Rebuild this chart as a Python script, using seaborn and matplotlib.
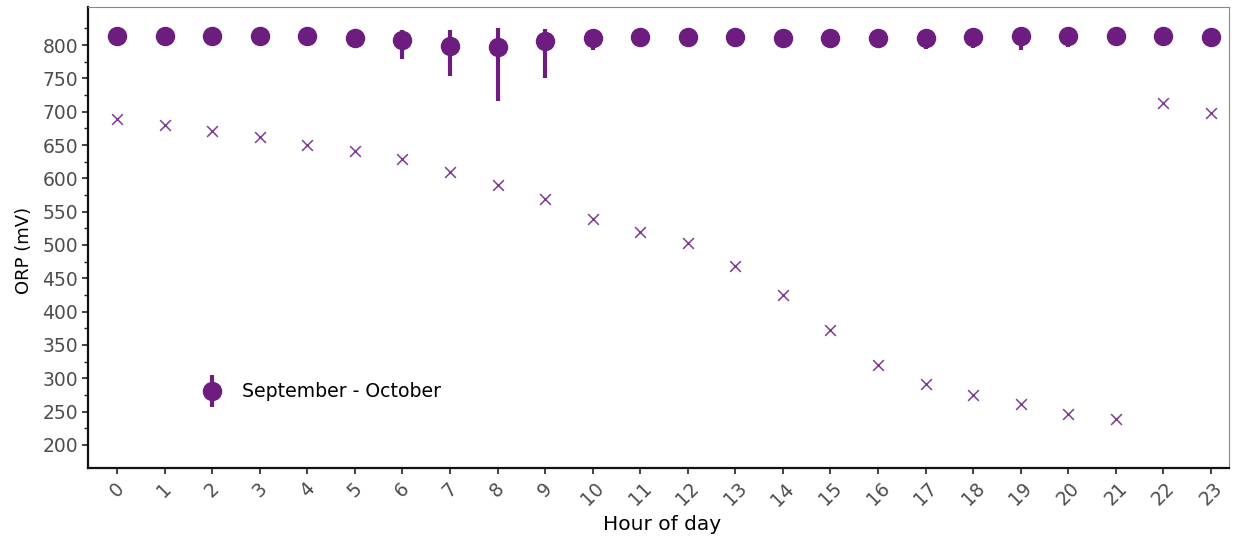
import matplotlib
matplotlib.use("Agg")
import matplotlib.pyplot as plt
import seaborn as sns
import numpy as np
import pandas as pd
from matplotlib.container import ErrorbarContainer
from matplotlib.legend_handler import HandlerErrorbar

# ---- data ----
hours = list(range(24))
hour_labels = [str(h) for h in hours]
mean_orp = [814, 814, 814, 814, 814, 811, 808, 799, 797, 806, 811, 812,
            812, 812, 811, 811, 811, 810, 812, 813, 813, 814, 813, 812]
lower_orp = [801, 806, 806, 806, 806, 795, 779, 753, 716, 751, 793, 805,
             805, 805, 803, 804, 804, 794, 795, 793, 797, 799, 800, 798]
upper_orp = [822, 822, 822, 822, 822, 819, 823, 823, 825, 824, 819, 820,
             820, 820, 819, 819, 819, 824, 820, 821, 821, 822, 821, 820]
cross_orp = [688.5, 680.5, 671.5, 661.5, 650.5, 640.5, 628.5, 609.5, 590.5, 568.5,
             538.5, 519.5, 502.5, 468.5, 425, 372.5, 320, 291, 275, 261.5,
             247, 239, 713, 698.5]
y_major = list(range(200, 801, 50))
y_minor = list(range(225, 826, 50))
series_label = "September - October"

dot_color = "#6C1D7F"
cross_color = "#7E3B94"

sns.set_theme(style="white")
plt.rcParams['font.family'] = ['DejaVu Sans']

fig = plt.figure(figsize=(12.39, 5.41), dpi=100)
ax = fig.add_axes([0.071, 0.135, 0.921, 0.852])

df_cross = pd.DataFrame({"hour": hours, "orp": cross_orp})
sns.scatterplot(data=df_cross, x="hour", y="orp", marker="x", s=60,
                color=cross_color, linewidth=1.1, ax=ax, legend=False, zorder=2)

mean_arr = np.array(mean_orp)
yerr = [mean_arr - np.array(lower_orp), np.array(upper_orp) - mean_arr]
ax.errorbar(hours, mean_orp, yerr=yerr, fmt='o', color=dot_color,
            markersize=13, elinewidth=3, capsize=0, label=series_label, zorder=3)

ax.set_xlim(-0.61, 23.38)
ax.set_ylim(165.5, 857)
ax.set_xticks(hours)
ax.set_xticklabels(hour_labels, rotation=45, ha='center')
ax.set_yticks(y_major)
ax.set_yticks(y_minor, minor=True)

ax.tick_params(axis='both', which='major', direction='out', length=4, width=1.2,
               color='#222222', labelsize=13.5, labelcolor='#4D4D4D', pad=3,
               left=True, bottom=True)
ax.tick_params(axis='x', which='major', pad=4)
ax.tick_params(axis='y', which='minor', direction='out', length=3, width=1.0,
               color='#222222', left=True)

for s in ['left', 'bottom']:
    ax.spines[s].set_color('#111111')
    ax.spines[s].set_linewidth(1.6)
for s in ['top', 'right']:
    ax.spines[s].set_color('#888888')
    ax.spines[s].set_linewidth(0.8)

ax.set_xlabel("Hour of day", fontsize=14.5, color='black')
ax.set_ylabel("ORP (mV)", fontsize=13, color='black')
ax.xaxis.set_label_coords(0.503, -0.102)
ax.yaxis.set_label_coords(-0.048, 0.473)
ax.grid(False)

leg = ax.legend(loc='center left', bbox_to_anchor=(0.0835, 0.165), frameon=False,
                fontsize=13.6, handlelength=1.2, handletextpad=1.0,
                handler_map={ErrorbarContainer: HandlerErrorbar(yerr_size=0.85)})
for t in leg.get_texts():
    t.set_color('black')

fig.savefig("out.png", dpi=100)
